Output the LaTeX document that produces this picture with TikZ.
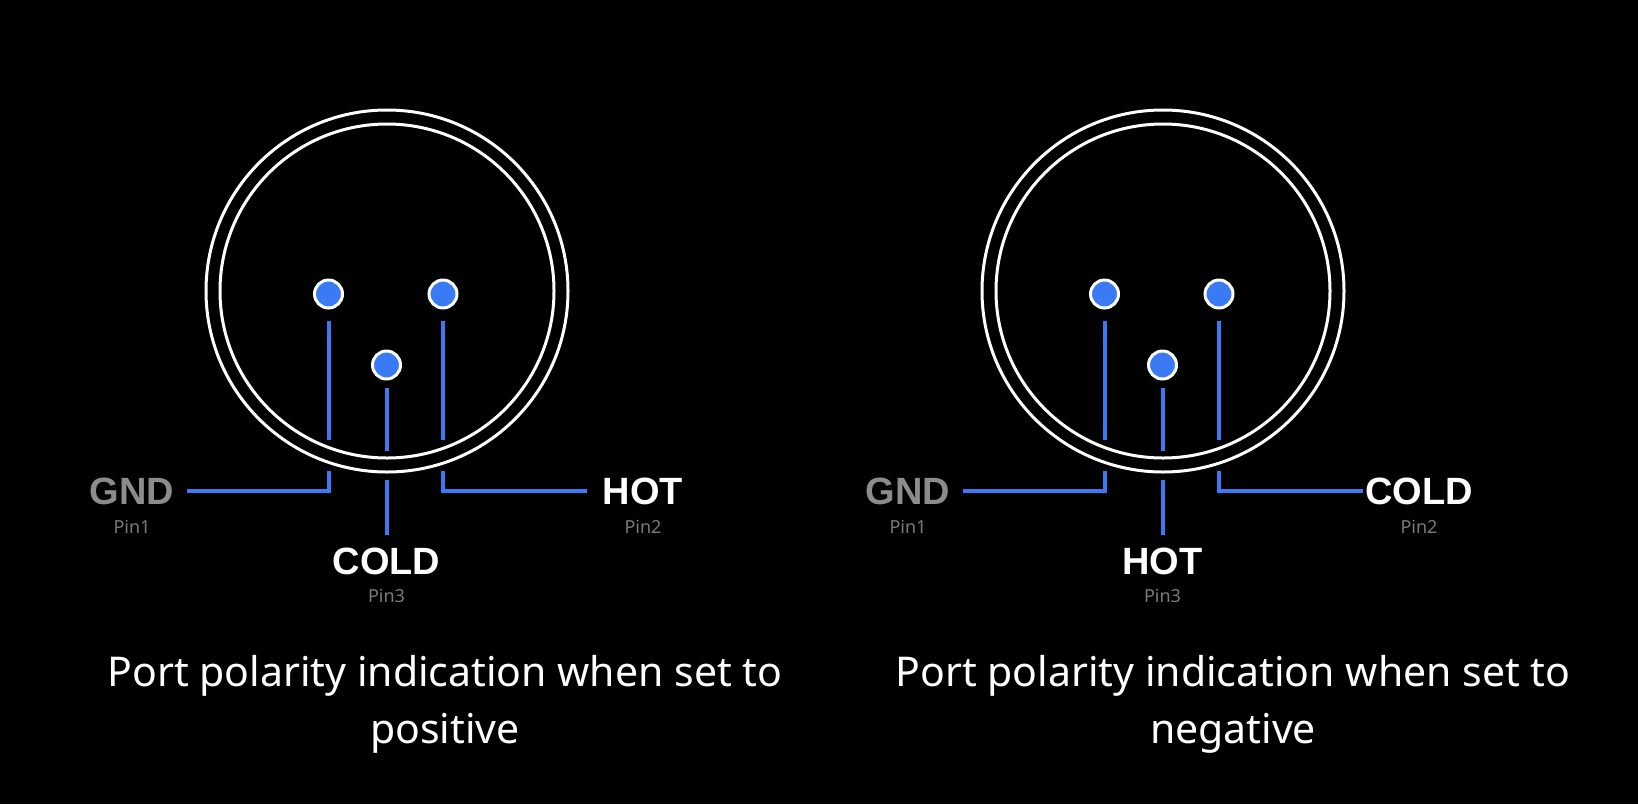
\documentclass[tikz,border=0pt]{standalone}
\usepackage{fontspec}
\setmainfont{Noto Sans}
\newfontfamily\labfont{Liberation Sans}
\definecolor{pinblue}{HTML}{3A7BF5}
\definecolor{gndgray}{HTML}{8C8C8C}
\definecolor{subgray}{HTML}{7A7A7A}
\begin{document}
\begin{tikzpicture}[x=1pt,y=-1pt,
  ring/.style={draw=white,line width=3pt},
  pin/.style={circle,fill=pinblue,draw=white,line width=3pt,minimum size=28pt,inner sep=0pt},
  wire/.style={draw=pinblue,line width=4pt},
  lab/.style={font=\labfont\fontsize{38}{40}\selectfont\bfseries,text=white,inner sep=0pt},
  gnd/.style={lab,text=gndgray},
  sub/.style={font=\fontsize{18}{20}\selectfont,text=subgray,inner sep=0pt},
  captxt/.style={font=\fontsize{41}{57}\selectfont,text=white,align=center,inner sep=0pt}]
\fill[black] (0,0) rectangle (1638,804);
\useasboundingbox (0,0) rectangle (1638,804);
\foreach \dx/\n/\top/\bot in {0/a/HOT/COLD,776/b/COLD/HOT}{
  \begin{scope}[xshift=\dx pt]
  \draw[ring] (387,291) circle[radius=181];
  \draw[ring] (387,291) circle[radius=167];
  \node[pin] (\n1) at (328.5,294) {};
  \node[pin] (\n2) at (443,294) {};
  \node[pin] (\n3) at (386.5,365) {};
  \draw[wire] (328.5,321) -- (328.5,440);
  \draw[wire] (443,321) -- (443,440);
  \draw[wire] (386.5,388) -- (386.5,451);
  \draw[wire] (328.5,471) -- (328.5,491) -- (187,491);
  \draw[wire] (443,471) -- (443,491) -- (587,491);
  \draw[wire] (386.5,480) -- (386.5,535);
  \node[gnd] (\n gnd) at (132,491) {GND};
  \node[sub] (\n p1) at (132,527) {Pin1};
  \node[lab] (\n r) at (643,491) {\top};
  \node[sub] (\n p2) at (643,527) {Pin2};
  \node[lab] (\n m) at (386.5,561) {\bot};
  \node[sub] (\n p3) at (386.5,596) {Pin3};
  \end{scope}
}
\node[captxt] (capa) at (445,704) {Port polarity indication when set to\\positive};
\node[captxt] (capb) at (1233,704) {Port polarity indication when set to\\negative};
\end{tikzpicture}
\end{document}
